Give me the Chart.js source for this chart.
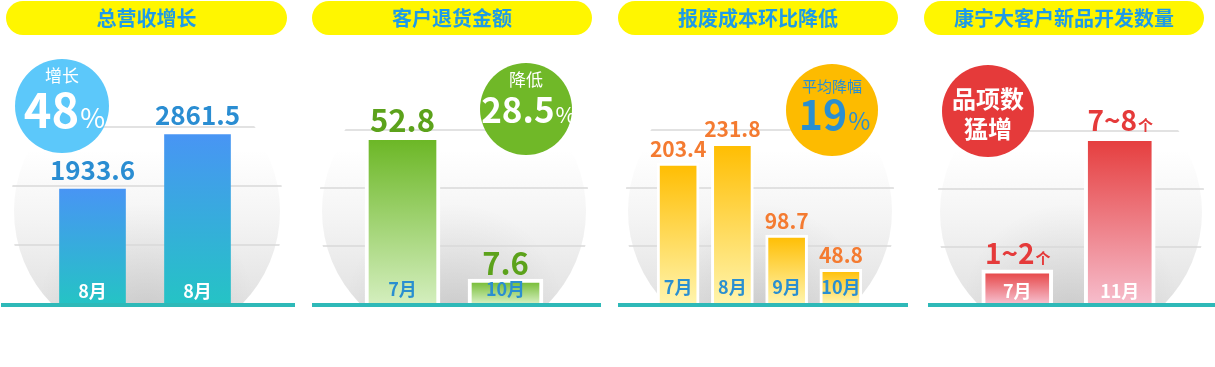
<!DOCTYPE html>
<html lang="zh">
<head>
<meta charset="UTF-8" />
<title>月度指标</title>
<script src="https://cdn.jsdelivr.net/npm/chart.js"></script>
<style>
  body { margin: 0; background: #fff; }
  #wrap { position: relative; width: 1215px; height: 367px; overflow: hidden; }
  canvas { position: absolute; top: 0; }
</style>
</head>
<body>
<div id="wrap">
  <canvas id="c1" width="305" height="367" style="left:0px"></canvas>
  <canvas id="c2" width="305" height="367" style="left:305px"></canvas>
  <canvas id="c3" width="305" height="367" style="left:610px"></canvas>
  <canvas id="c4" width="300" height="367" style="left:915px"></canvas>
</div>
<script>
  // data
  const titles = ['总营收增长', '客户退货金额', '报废成本环比降低', '康宁大客户新品开发数量'];

  const revMonths = ['8月', '8月'];
  const revValues = [1933.6, 2861.5];

  const returnMonths = ['7月', '10月'];
  const returnValues = [52.8, 7.6];

  const scrapMonths = ['7月', '8月', '9月', '10月'];
  const scrapValues = [203.4, 231.8, 98.7, 48.8];

  const newMonths = ['7月', '11月'];
  const newValues = [1.5, 7.5];          // bar height, middle of the range
  const newLabels = ['1~2', '7~8'];      // text shown above the bar

  const badgeTop = ['增长', '降低', '平均降幅', ''];
  const badgeMain = ['48', '28.5', '19', ''];
  const badgeLines = [[], [], [], ['品项数', '猛增']];

  const FONT = '"Noto Sans CJK SC", "Noto Sans", sans-serif';
  const BASE = 303;

  // layout / style per panel
  const panels = [
    { id: 'c1', w: 305, months: revMonths, values: revValues, texts: revValues.map(String), unit: '',
      max: 4500, pad: [40, 55], bar: 66, border: 0, top: '#4895f4', bottom: '#25c3c5',
      pill: [6, 287], bowl: [147, 211, 133], line: [1, 295], grid: [127, 186, 245],
      badge: { x: 62, y: 106, r: 47, color: '#5cc8fa', topColor: '#fff', topFont: '17px', topY: 76,
               mainFont: 'bold 47px', unitFont: '27px', baseY: 128, textColor: '#fff' },
      valFont: 'bold 26px', valColor: '#2a8dd2', valGap: 9, monColor: '#fff', monY: 291 },
    { id: 'c2', w: 305, months: returnMonths, values: returnValues, texts: returnValues.map(String), unit: '',
      max: 84, pad: [46, 53], bar: 75, border: 4, top: '#6ab623', bottom: '#d3eebd',
      pill: [7, 287], bowl: [149, 211, 132], line: [7, 296], grid: [130, 188, 246],
      badge: { x: 221, y: 109, r: 46, color: '#70b828', topColor: '#fff', topFont: '17px', topY: 80,
               mainFont: 'bold 35px', unitFont: '22px', baseY: 123, textColor: '#fff' },
      valFont: 'bold 31px', valColor: '#5ca21b', valGap: 4, monColor: '#2a8fd0', monY: 289 },
    { id: 'c3', w: 305, months: scrapMonths, values: scrapValues, texts: scrapValues.map(String), unit: '',
      max: 385, pad: [41, 47], bar: 42, border: 3, top: '#ffbd00', bottom: '#fff4ab',
      pill: [8, 288], bowl: [150, 211, 132], line: [8, 298], grid: [130, 188, 246],
      badge: { x: 222, y: 110, r: 46, color: '#fdbb00', topColor: '#2a8fd0', topFont: '15px', topY: 86,
               mainFont: 'bold 41px', unitFont: '24px', baseY: 130, textColor: '#2a8fd0' },
      valFont: 'bold 21px', valColor: '#f47b31', valGap: 6, monColor: '#2a8fd0', monY: 287 },
    { id: 'c4', w: 300, months: newMonths, values: newValues, texts: newLabels, unit: '个',
      max: 12, pad: [51, 44], bar: 71, border: 4, top: '#e53c3c', bottom: '#f6bccb',
      pill: [9, 289], bowl: [156, 212, 131], line: [13, 300], grid: [131, 189, 247],
      badge: { x: 73, y: 111, r: 46, color: '#e53a3a', lineFont: 'bold 24px', lineY: [99, 129], textColor: '#fff' },
      valFont: 'bold 28px', valColor: '#e53a3a', valGap: 6, monColor: '#fff', monY: 291 }
  ];

  function roundRect(ctx, x, y, w, h, r) {
    ctx.beginPath();
    ctx.moveTo(x + r, y);
    ctx.arcTo(x + w, y, x + w, y + h, r);
    ctx.arcTo(x + w, y + h, x, y + h, r);
    ctx.arcTo(x, y + h, x, y, r);
    ctx.arcTo(x, y, x + w, y, r);
    ctx.closePath();
  }

  // main text + small unit next to it, centred as a group
  function drawPair(ctx, cx, baseY, main, mainFont, unit, unitFont, color) {
    ctx.font = mainFont + ' ' + FONT;
    const w1 = ctx.measureText(main).width;
    ctx.font = unitFont + ' ' + FONT;
    const w2 = unit ? ctx.measureText(unit).width : 0;
    const x = cx - (w1 + w2) / 2;
    ctx.fillStyle = color;
    ctx.textAlign = 'left';
    ctx.textBaseline = 'alphabetic';
    ctx.font = mainFont + ' ' + FONT;
    ctx.fillText(main, x, baseY);
    if (unit) {
      ctx.font = unitFont + ' ' + FONT;
      ctx.fillText(unit, x + w1 + 1, baseY);
    }
  }

  function makePanel(p, i) {
    const deco = {
      id: 'deco' + i,
      beforeDatasetsDraw(chart) {
        const ctx = chart.ctx;
        ctx.save();
        // title pill
        roundRect(ctx, p.pill[0], 1, p.pill[1] - p.pill[0], 34, 17);
        ctx.fillStyle = '#fff600';
        ctx.fill();
        ctx.fillStyle = '#1e9be6';
        ctx.font = 'bold 20px ' + FONT;
        ctx.textAlign = 'center';
        ctx.textBaseline = 'middle';
        ctx.fillText(titles[i], (p.pill[0] + p.pill[1]) / 2, 18);

        // grey bowl behind the bars
        const [cx, cy, r] = p.bowl;
        ctx.save();
        ctx.beginPath();
        ctx.rect(0, 0, p.w, BASE);
        ctx.clip();
        ctx.beginPath();
        ctx.arc(cx, cy, r, 0, Math.PI * 2);
        ctx.clip();
        const g = ctx.createLinearGradient(0, 150, 0, BASE);
        g.addColorStop(0, '#ffffff');
        g.addColorStop(0.45, '#f4f4f4');
        g.addColorStop(1, '#e2e2e2');
        ctx.fillStyle = g;
        ctx.fillRect(0, 0, p.w, BASE);
        const rg = ctx.createRadialGradient(cx, BASE + 10, 10, cx, BASE + 10, 110);
        rg.addColorStop(0, 'rgba(0,0,0,0.09)');
        rg.addColorStop(1, 'rgba(0,0,0,0)');
        ctx.fillStyle = rg;
        ctx.fillRect(0, 0, p.w, BASE);
        ctx.restore();

        // grid lines, kept inside the bowl
        ctx.save();
        ctx.beginPath();
        ctx.arc(cx, cy, r + 4, 0, Math.PI * 2);
        ctx.clip();
        ctx.strokeStyle = '#d9d9d9';
        ctx.lineWidth = 1.5;
        p.grid.forEach(y => {
          ctx.beginPath();
          ctx.moveTo(0, y);
          ctx.lineTo(p.w, y);
          ctx.stroke();
        });
        ctx.restore();
        ctx.restore();
      },
      afterDatasetsDraw(chart) {
        const ctx = chart.ctx;
        const bars = chart.getDatasetMeta(0).data;
        ctx.save();
        // teal base line
        ctx.fillStyle = '#2eb9b8';
        ctx.fillRect(p.line[0], BASE, p.line[1] - p.line[0], 4);

        // value labels above bars and months inside them
        bars.forEach((b, k) => {
          drawPair(ctx, b.x, b.y - p.valGap, p.texts[k], p.valFont, p.unit, 'bold 15px', p.valColor);
          ctx.font = 'bold 18px ' + FONT;
          ctx.fillStyle = p.monColor;
          ctx.textAlign = 'center';
          ctx.textBaseline = 'middle';
          ctx.fillText(p.months[k], b.x, p.monY);
        });

        // round badge
        const bd = p.badge;
        ctx.beginPath();
        ctx.arc(bd.x, bd.y, bd.r, 0, Math.PI * 2);
        ctx.fillStyle = bd.color;
        ctx.fill();
        if (badgeLines[i].length) {
          ctx.font = bd.lineFont + ' ' + FONT;
          ctx.fillStyle = bd.textColor;
          ctx.textAlign = 'center';
          ctx.textBaseline = 'middle';
          badgeLines[i].forEach((t, k) => ctx.fillText(t, bd.x, bd.lineY[k]));
        } else {
          ctx.font = bd.topFont + ' ' + FONT;
          ctx.fillStyle = bd.topColor;
          ctx.textAlign = 'center';
          ctx.textBaseline = 'middle';
          ctx.fillText(badgeTop[i], bd.x, bd.topY);
          drawPair(ctx, bd.x + 2, bd.baseY, badgeMain[i], bd.mainFont, '%', bd.unitFont, bd.textColor);
        }
        ctx.restore();
      }
    };

    return new Chart(document.getElementById(p.id), {
      type: 'bar',
      data: {
        labels: p.months,
        datasets: [{
          data: p.values,
          backgroundColor: c => {
            const area = c.chart.chartArea;
            if (!area || c.raw === undefined) return p.top;
            const yt = c.chart.scales.y.getPixelForValue(c.raw);
            const g = c.chart.ctx.createLinearGradient(0, yt, 0, area.bottom);
            g.addColorStop(0, p.top);
            g.addColorStop(1, p.bottom);
            return g;
          },
          borderColor: '#ffffff',
          borderWidth: p.border,
          borderSkipped: 'bottom',
          barThickness: p.bar
        }]
      },
      options: {
        responsive: false,
        animation: false,
        layout: { padding: { left: p.pad[0], right: p.pad[1], top: 38, bottom: 367 - BASE } },
        plugins: { legend: { display: false }, tooltip: { enabled: false } },
        scales: {
          x: { display: false },
          y: { display: false, min: 0, max: p.max }
        }
      },
      plugins: [deco]
    });
  }

  panels.forEach(makePanel);
</script>
</body>
</html>
